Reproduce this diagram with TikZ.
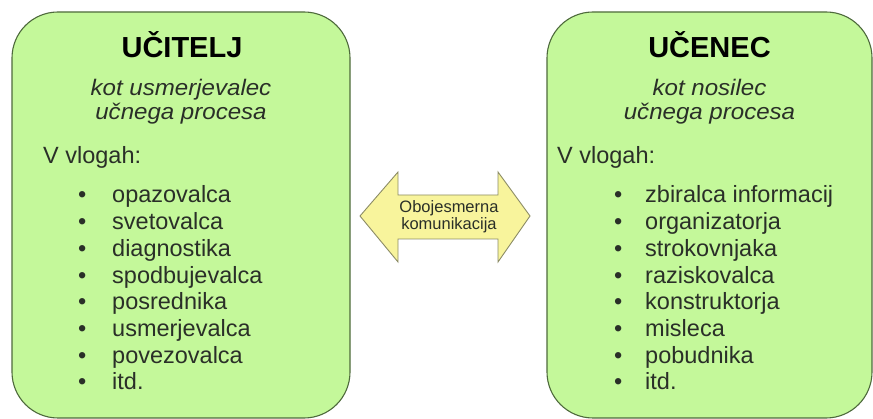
\documentclass[tikz,border=0pt]{standalone}
\usepackage{fontspec}
\setmainfont{Liberation Sans}
\definecolor{boxfill}{HTML}{C4F89A}
\definecolor{boxline}{HTML}{4E6A3C}
\definecolor{arrfill}{HTML}{F8F49C}
\definecolor{arrline}{HTML}{8C8C66}
\definecolor{txt}{HTML}{2A2F28}
\newcommand{\widen}[1]{\scalebox{1.07}[1]{#1}}
\tikzset{
  box/.style={draw=boxline, line width=1.1pt, fill=boxfill, rounded corners=46pt, inner sep=0pt},
  ttl/.style={anchor=base, inner sep=0pt, font=\fontsize{29}{31}\selectfont\bfseries, text=black},
  sub/.style={anchor=base, inner sep=0pt, font=\fontsize{22.5}{24}\selectfont\itshape, text=txt},
  lst/.style={anchor=base west, inner sep=0pt, font=\fontsize{23.5}{25}\selectfont, text=txt},
  arrtxt/.style={inner sep=0pt, align=center, font=\fontsize{16.5}{17}\selectfont, text=txt}
}
\begin{document}
\begin{tikzpicture}[x=1pt,y=-1pt]
\useasboundingbox (0,0) rectangle (873,419);
% boxes
\node[box, minimum width=338pt, minimum height=406pt] (L) at (181,215) {};
\node[box, minimum width=325pt, minimum height=406pt] (R) at (709.5,215) {};
% arrow
\draw[draw=arrline, line width=0.9pt, fill=arrfill, line join=miter]
  (360,216) -- (398,172) -- (398,195) -- (498,195) -- (498,172) -- (530,216)
  -- (498,262) -- (498,239) -- (398,239) -- (398,262) -- cycle;
\node[arrtxt] (A) at (449,217) {Obojesmerna\\komunikacija};
% left texts
\node[ttl] (Lt) at (182,58) {UČITELJ};
\node[sub] (Ls1) at (181,96) {\widen{kot usmerjevalec}};
\node[sub] (Ls2) at (181,120) {\widen{učnega procesa}};
\node[lst] (Lv) at (43,164) {V vlogah:};
\foreach \t [count=\i] in {opazovalca,svetovalca,diagnostika,spodbujevalca,posrednika,usmerjevalca,povezovalca,itd.}{
  \node[lst] (Lb\i) at (78,{203+26.7*(\i-1)}) {•};
  \node[lst] (Li\i) at (112,{203+26.7*(\i-1)}) {\t};
}
% right texts
\node[ttl] (Rt) at (709.5,58) {UČENEC};
\node[sub] (Rs1) at (709.5,96) {\widen{kot nosilec}};
\node[sub] (Rs2) at (709.5,120) {\widen{učnega procesa}};
\node[lst] (Rv) at (557,164) {V vlogah:};
\foreach \t [count=\i] in {zbiralca informacij,organizatorja,strokovnjaka,raziskovalca,konstruktorja,misleca,pobudnika,itd.}{
  \node[lst] (Rb\i) at (614,{203+26.7*(\i-1)}) {•};
  \node[lst] (Ri\i) at (645,{203+26.7*(\i-1)}) {\t};
}
\end{tikzpicture}
\end{document}
